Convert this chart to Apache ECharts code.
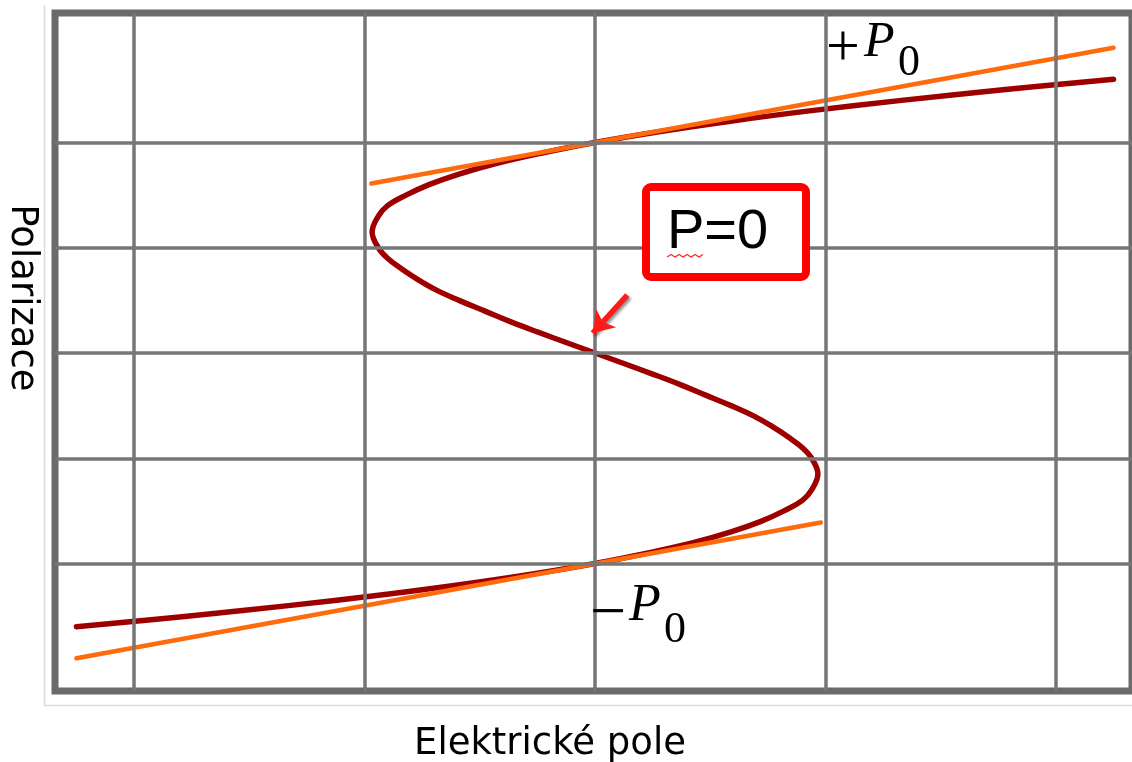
<!DOCTYPE html>
<html>
<head>
<meta charset="utf-8">
<script src="https://cdn.jsdelivr.net/npm/echarts@6/dist/echarts.min.js"></script>
<style>
  html, body { margin: 0; padding: 0; background: #fff; }
  #chart { width: 1132px; height: 762px; }
</style>
</head>
<body>
<div id="chart"></div>
<script>
// S-shaped polarization curve: electric field E (x) and polarization P (y)
const fieldE = [-2.25, -1.77, -1.33, -0.93, -0.58, -0.27, 0, 0.23, 0.43, 0.59, 0.72, 0.82, 0.90, 0.94, 0.967, 0.94,
                0.90, 0.84, 0.77, 0.69, 0.59, 0.48, 0.37, 0.25, 0.125, 0,
                -0.125, -0.25, -0.37, -0.48, -0.59, -0.69, -0.77, -0.84, -0.90, -0.94, -0.967, -0.94, -0.90,
                -0.82, -0.72, -0.59, -0.43, -0.23, 0, 0.27, 0.58, 0.93, 1.33, 1.77, 2.25];
const polarP = [-2.6, -2.5, -2.4, -2.3, -2.2, -2.1, -2.0, -1.9, -1.8, -1.7, -1.6, -1.5, -1.4, -1.3, -1.15, -1.0,
                -0.9, -0.8, -0.7, -0.6, -0.5, -0.4, -0.3, -0.2, -0.1, 0,
                0.1, 0.2, 0.3, 0.4, 0.5, 0.6, 0.7, 0.8, 0.9, 1.0, 1.15, 1.3, 1.4,
                1.5, 1.6, 1.7, 1.8, 1.9, 2.0, 2.1, 2.2, 2.3, 2.4, 2.5, 2.6];

// Tangent lines through +P0 and -P0
const tangentUpperE = [-0.97, 2.25];
const tangentUpperP = [1.61, 2.90];
const tangentLowerE = [-2.25, 0.98];
const tangentLowerP = [-2.90, -1.61];

// Grid line positions
const gridE = [-2, -1, 0, 1, 2];
const gridP = [-2, -1, 0, 1, 2];

// Arrow pointing at the P = 0 crossing
const arrowFrom = [0.14, 0.55];
const arrowTo = [-0.01, 0.19];

const pairs = (xs, ys) => xs.map((x, i) => [x, ys[i]]);

const chart = echarts.init(document.getElementById('chart'), null, { renderer: 'canvas' });

const serif = '"Liberation Serif", "DejaVu Serif", serif';

const option = {
  animation: false,
  grid: {
    left: 55, right: 0, top: 13, bottom: 71,
    show: true, borderColor: '#6a6a6a', borderWidth: 7, backgroundColor: '#fff'
  },
  xAxis: { type: 'value', min: -2.343, max: 2.330, show: false },
  yAxis: { type: 'value', min: -3.211, max: 3.230, show: false },
  series: [
    {
      name: 'grid',
      type: 'line',
      data: [],
      z: 1,
      silent: true,
      markLine: {
        silent: true,
        symbol: ['none', 'none'],
        label: { show: false },
        lineStyle: { color: '#767676', width: 3.5, type: 'solid' },
        emphasis: { disabled: true },
        data: gridE.map(v => ({ xAxis: v })).concat(gridP.map(v => ({ yAxis: v })))
      }
    },
    {
      name: 'P(E)',
      type: 'line',
      data: pairs(fieldE, polarP),
      smooth: 0.4,
      showSymbol: false,
      z: 3,
      lineStyle: { color: '#9e0000', width: 5.5, join: 'round', cap: 'round' }
    },
    {
      name: '+P0',
      type: 'line',
      data: pairs(tangentUpperE, tangentUpperP),
      showSymbol: false,
      z: 4,
      lineStyle: { color: '#ff6a0d', width: 4.5, cap: 'round' }
    },
    {
      name: '-P0',
      type: 'line',
      data: pairs(tangentLowerE, tangentLowerP),
      showSymbol: false,
      z: 4,
      lineStyle: { color: '#ff6a0d', width: 4.5, cap: 'round' }
    },
    {
      name: 'arrow',
      type: 'line',
      data: [],
      z: 5,
      markLine: {
        silent: true,
        symbol: ['none', 'arrow'],
        symbolSize: [20, 20],
        label: { show: false },
        lineStyle: {
          color: '#ff1a1a', width: 5.5, type: 'solid',
          shadowColor: 'rgba(0,0,0,0.45)', shadowBlur: 3, shadowOffsetX: 2, shadowOffsetY: 2
        },
        data: [[{ coord: arrowFrom }, { coord: arrowTo }]]
      }
    }
  ],
  graphic: [
    {
      type: 'polyline', silent: true, z: 0,
      shape: { points: [[44.5, 5], [44.5, 705.5], [1132, 705.5]] },
      style: { stroke: '#dcdcdc', lineWidth: 1.5, fill: null }
    },
    {
      type: 'rect', silent: true, z: 10,
      shape: { x: 646, y: 187, width: 160, height: 90, r: 5 },
      style: { fill: '#fff', stroke: '#ff0000', lineWidth: 8 }
    },
    {
      type: 'text', silent: true, z: 11,
      style: { text: 'P=0', x: 667, y: 233, font: '56px "Liberation Sans", Arial, sans-serif', fill: '#000', verticalAlign: 'middle' }
    },
    {
      type: 'polyline', silent: true, z: 11,
      shape: { points: [[667, 257], [671, 254.5], [675, 257], [679, 254.5], [683, 257], [687, 254.5], [691, 257], [695, 254.5], [699, 257], [703, 254.5]] },
      style: { stroke: '#ff2a2a', lineWidth: 1.3, fill: null }
    },
    // +P0 label
    { type: 'text', silent: true, z: 11, style: { text: '+', x: 826, y: 49, font: '60px ' + serif, fill: '#000', verticalAlign: 'middle' } },
    { type: 'text', silent: true, z: 11, style: { text: 'P', x: 864, y: 43, font: 'italic 50px ' + serif, fill: '#000', verticalAlign: 'middle' } },
    { type: 'text', silent: true, z: 11, style: { text: '0', x: 898, y: 63, font: '44px ' + serif, fill: '#000', verticalAlign: 'middle' } },
    // -P0 label
    { type: 'text', silent: true, z: 11, style: { text: '\u2212', x: 590, y: 615, font: '64px ' + serif, fill: '#000', verticalAlign: 'middle' } },
    { type: 'text', silent: true, z: 11, style: { text: 'P', x: 629, y: 606, font: 'italic 52px ' + serif, fill: '#000', verticalAlign: 'middle' } },
    { type: 'text', silent: true, z: 11, style: { text: '0', x: 664, y: 630, font: '44px ' + serif, fill: '#000', verticalAlign: 'middle' } },
    // Axis titles
    {
      type: 'text', silent: true, z: 11,
      style: { text: 'Elektrické pole', x: 550, y: 744, font: '37px "DejaVu Sans", sans-serif', fill: '#000', align: 'center', verticalAlign: 'middle' }
    },
    {
      type: 'text', silent: true, z: 11,
      x: 22, y: 298, rotation: -Math.PI / 2,
      style: { text: 'Polarizace', x: 0, y: 0, font: '37px "DejaVu Sans", sans-serif', fill: '#000', align: 'center', verticalAlign: 'middle' }
    }
  ]
};

chart.setOption(option);
</script>
</body>
</html>
